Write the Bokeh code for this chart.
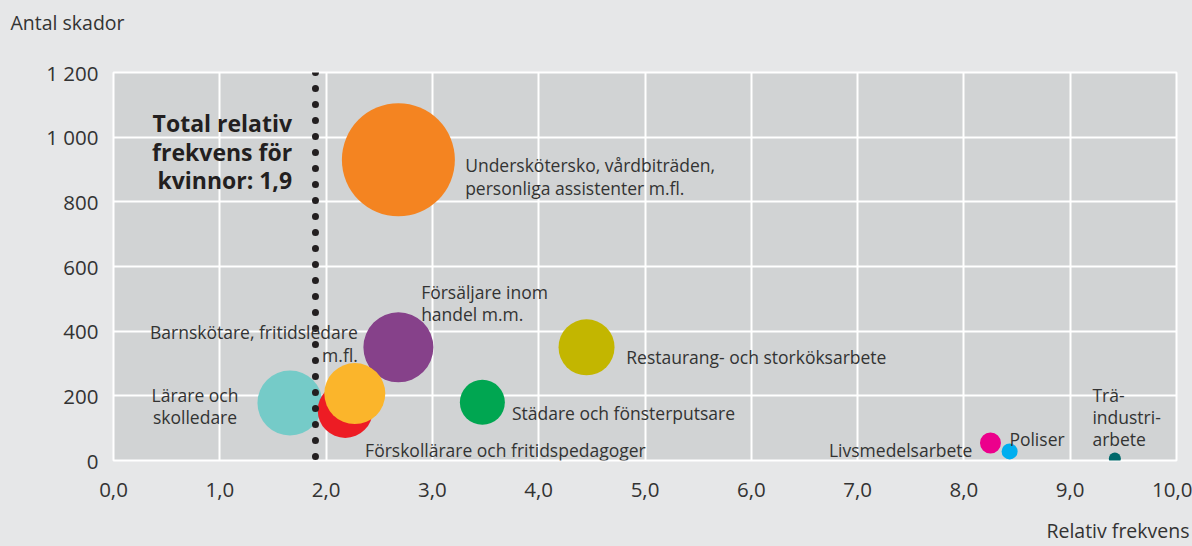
from bokeh.plotting import figure
from bokeh.models import ColumnDataSource, Range1d, FixedTicker, Label, Title
from bokeh.embed import file_html
from bokeh.resources import INLINE

# ---------------- data ----------------
yrken = [
    "Undersköterskor, vårdbiträden, personliga assistenter m.fl.",
    "Försäljare inom handel m.m.",
    "Restaurang- och storköksarbete",
    "Städare och fönsterputsare",
    "Lärare och skolledare",
    "Förskollärare och fritidspedagoger",
    "Barnskötare, fritidsledare m.fl.",
    "Livsmedelsarbete",
    "Poliser",
    "Träindustriarbete",
]
relativ_frekvens = [2.68, 2.68, 4.45, 3.47, 1.66, 2.18, 2.27, 8.25, 8.43, 9.42]
antal_skador = [930, 350, 350, 180, 178, 155, 207, 54, 28, 6]
storlek = [113, 70, 56, 45, 65, 55, 61, 21, 16, 12]
farger = ["#f48421", "#86418a", "#c3b600", "#00a651", "#75cbc8",
          "#ed1c24", "#fbb52b", "#ec008c", "#00aeef", "#00686b"]

total_relativ_frekvens_kvinnor = 1.9

x_ticks = [0, 1, 2, 3, 4, 5, 6, 7, 8, 9, 10]
x_tick_labels = ["0,0", "1,0", "2,0", "3,0", "4,0", "5,0", "6,0", "7,0", "8,0", "9,0", "10,0"]
y_ticks = [0, 200, 400, 600, 800, 1000, 1200]
y_tick_labels = ["0", "200", "400", "600", "800", "1 000", "1 200"]

FONT = "Open Sans"
TXT = "#333333"
BG = "#e6e7e8"

src = ColumnDataSource(dict(x=relativ_frekvens, y=antal_skador, s=storlek,
                            c=farger, namn=yrken))

p = figure(width=1192, height=546, output_backend="svg", toolbar_location=None,
           x_range=Range1d(0, 10), y_range=Range1d(0, 1200),
           min_border_left=113, min_border_right=16,
           min_border_top=72, min_border_bottom=86)

p.background_fill_color = "#d1d3d4"
p.border_fill_color = BG
p.outline_line_color = "white"
p.outline_line_width = 2

# y-axis title at top left (outermost panel above the plot)
p.title.text = "Antal skador"
p.title.align = "left"
p.title.offset = -103
p.title.text_font = FONT
p.title.text_font_size = "19.5px"
p.title.text_font_style = "normal"
p.title.text_color = TXT

# spacer between the frame and the y-axis title
p.add_layout(Title(text=" ", text_font=FONT, text_font_size="15px", standoff=10), "above")

for ax in (p.xaxis[0], p.yaxis[0]):
    ax.axis_line_color = None
    ax.major_tick_line_color = None
    ax.minor_tick_line_color = None
    ax.major_tick_out = 0
    ax.major_tick_in = 0
    ax.major_label_text_font = FONT
    ax.major_label_text_font_size = "20.5px"
    ax.major_label_text_color = TXT

p.xaxis.ticker = FixedTicker(ticks=x_ticks)
p.xaxis.major_label_overrides = dict(zip(x_ticks, x_tick_labels))
p.xaxis.major_label_standoff = 22
p.xaxis.axis_label = " "
p.xaxis.axis_label_text_font_size = "11px"
p.xaxis.axis_label_standoff = 0
p.yaxis.ticker = FixedTicker(ticks=y_ticks)
p.yaxis.major_label_overrides = dict(zip(y_ticks, y_tick_labels))
p.yaxis.major_label_standoff = 15

p.xgrid.grid_line_color = "white"
p.xgrid.grid_line_width = 2
p.ygrid.grid_line_color = "white"
p.ygrid.grid_line_width = 2

# x-axis title, bottom right
p.add_layout(Title(text="Relativ frekvens", align="right", offset=-13, standoff=0,
                   text_font=FONT, text_font_size="19.5px",
                   text_font_style="normal", text_color=TXT), "below")

p.scatter("x", "y", size="s", fill_color="c", line_color=None, source=src)

# dotted reference line
p.line([total_relativ_frekvens_kvinnor, total_relativ_frekvens_kvinnor], [1200, 0],
       line_color="#231f20", line_width=7, line_dash="0 16", line_cap="round")


def lab(x, y, text, align="left", size="17.5px", style="normal", color=TXT):
    p.add_layout(Label(x=x, y=y, text=text, text_align=align,
                       text_baseline="alphabetic", text_font=FONT,
                       text_font_size=size, text_font_style=style,
                       text_color=color))


lab(3.308, 913.5, "Underskötersko, vårdbiträden,")
lab(3.308, 842.3, "personliga assistenter m.fl.")
lab(2.894, 521.2, "Försäljare inom")
lab(2.894, 454.3, "handel m.m.")
lab(4.824, 319.9, "Restaurang- och storköksarbete")
lab(3.748, 147.7, "Städare och fönsterputsare")
lab(2.367, 31.0, "Förskollärare och fritidspedagoger")
lab(2.298, 397.3, "Barnskötare, fritidsledare", align="right")
lab(2.298, 325.2, "m.fl.", align="right")
lab(0.767, 201.3, "Lärare och", align="center")
lab(0.767, 134.1, "skolledare", align="center")
lab(8.080, 31.0, "Livsmedelsarbete", align="right")
lab(8.428, 67.2, "Poliser")
lab(9.209, 201.3, "Trä-")
lab(9.209, 134.1, "industri-")
lab(9.209, 67.2, "arbete")

lab(1.680, 1044.5, "Total relativ", align="right", size="23px", style="bold", color="#231f20")
lab(1.680, 954.7, "frekvens för", align="right", size="23px", style="bold", color="#231f20")
lab(1.680, 867.1, "kvinnor: 1,9", align="right", size="23px", style="bold", color="#231f20")

template = """
{% block postamble %}
<style>body { background-color: #e6e7e8; }</style>
{% endblock %}
"""

open("out.html", "w").write(file_html(p, INLINE, template=template))
